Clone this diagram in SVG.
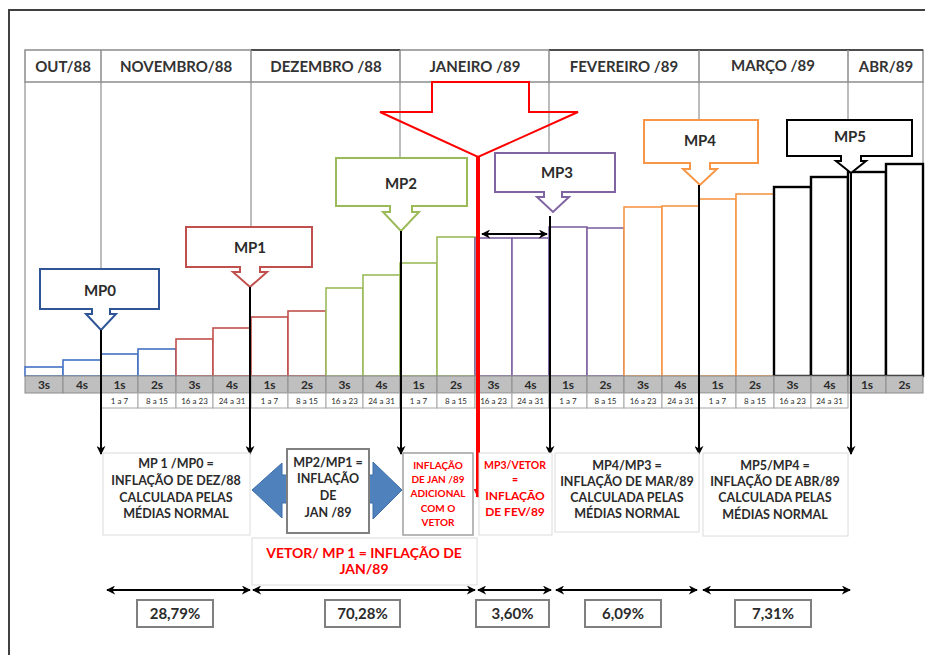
<svg xmlns="http://www.w3.org/2000/svg" width="925" height="655" viewBox="0 0 925 655">
<defs>
<marker id="ah" viewBox="0 0 10 10" refX="9" refY="5" markerWidth="9" markerHeight="9" markerUnits="userSpaceOnUse" orient="auto-start-reverse"><path d="M0,0 L10,5 L0,10 L3,5 z" fill="#000"/></marker>
<marker id="ahr" viewBox="0 0 10 10" refX="9" refY="5" markerWidth="9" markerHeight="9" markerUnits="userSpaceOnUse" orient="auto"><path d="M0,0 L10,5 L0,10 z" fill="#ff0000"/></marker>
<style>
text{font-family:Lato,"Open Sans","Liberation Sans",sans-serif;font-weight:700;fill:#2b2b2b;text-anchor:middle}
.hd{font-size:15px;fill:#333}
.wk{font-size:12px}
.sub{font-size:8px;font-weight:400}
.mp{font-size:15px}
.bx{font-size:12.5px}
.rd{fill:#ff0000}
.pc{font-size:15px}
.grid{stroke:#a6a6a6;stroke-width:1.5;fill:none}
.bar{fill:#fff;stroke-width:1.6}
.blue{stroke:#4472c4}.red{stroke:#c0504d}.green{stroke:#9bbb59}.purple{stroke:#8064a2}.orange{stroke:#f79646}.black{stroke:#000;stroke-width:2.4}
.co{fill:#fff;stroke-width:2}
.ptr{stroke:#000;stroke-width:2;fill:none}
.tb{fill:#fff;stroke:#dcdcdc;stroke-width:1}
.pbox{fill:#fff;stroke:#7f7f7f;stroke-width:2}
.barr{fill:#4f81bd;stroke:#3c6ea8;stroke-width:1}
.cell{fill:#bfbfbf;stroke:#8c8c8c;stroke-width:1}
.scell{fill:#fff;stroke:#a6a6a6;stroke-width:1}
</style>
</defs>

<g id="frame"><path d="M925,10 H9 V655" fill="none" stroke="#404040" stroke-width="2"/></g>

<g id="gridlines">
<line class="grid" x1="25" y1="82" x2="25" y2="367"/>
<line class="grid" x1="101" y1="82" x2="101" y2="269"/>
<line class="grid" x1="251" y1="82" x2="251" y2="227"/>
<line class="grid" x1="400" y1="82" x2="400" y2="158"/>
<line class="grid" x1="549" y1="82" x2="549" y2="153"/>
<line class="grid" x1="699" y1="82" x2="699" y2="120"/>
<line class="grid" x1="848" y1="82" x2="848" y2="120"/>
<line class="grid" x1="923" y1="82" x2="923" y2="164"/>
</g>

<g id="header">
<rect x="25" y="50" width="898" height="32" fill="#fff" stroke="#8c8c8c" stroke-width="1.5"/>
<path d="M251,50 H400 M549,50 H923" stroke="#4d4d4d" stroke-width="2"/>
<path d="M101,50 V82 M251,50 V82 M400,50 V82 M549,50 V82 M699,50 V82 M848,50 V82" stroke="#8c8c8c" stroke-width="1.5"/>
<text class="hd" x="63" y="71.5">OUT/88</text>
<text class="hd" x="176" y="71.5">NOVEMBRO/88</text>
<text class="hd" x="326" y="71.5">DEZEMBRO /88</text>
<text class="hd" x="475" y="71.5">JANEIRO /89</text>
<text class="hd" x="624" y="71.5">FEVEREIRO /89</text>
<text class="hd" x="773" y="70.5">MARÇO /89</text>
<text class="hd" x="886" y="71.5">ABR/89</text>
</g>

<g id="bars">
<rect class="bar blue" x="25" y="367" width="38" height="9"/>
<rect class="bar blue" x="63" y="360" width="38" height="16"/>
<rect class="bar blue" x="101" y="354" width="37" height="22"/>
<rect class="bar blue" x="138" y="349" width="38" height="27"/>
<rect class="bar red" x="176" y="339" width="37" height="37"/>
<rect class="bar red" x="213" y="328" width="38" height="48"/>
<rect class="bar red" x="251" y="317" width="37" height="59"/>
<rect class="bar red" x="288" y="311" width="38" height="65"/>
<rect class="bar green" x="326" y="288" width="37" height="88"/>
<rect class="bar green" x="363" y="275" width="37" height="101"/>
<rect class="bar green" x="400" y="263" width="37" height="113"/>
<rect class="bar green" x="437" y="237" width="38" height="139"/>
<rect class="bar purple" x="475" y="238" width="37" height="138"/>
<rect class="bar purple" x="512" y="238" width="37" height="138"/>
<rect class="bar purple" x="549" y="227" width="38" height="149"/>
<rect class="bar purple" x="587" y="228" width="37" height="148"/>
<rect class="bar orange" x="624" y="207" width="38" height="169"/>
<rect class="bar orange" x="662" y="206" width="37" height="170"/>
<rect class="bar orange" x="699" y="199" width="37" height="177"/>
<rect class="bar orange" x="736" y="194" width="38" height="182"/>
<rect class="bar black" x="774" y="187" width="37" height="189"/>
<rect class="bar black" x="811" y="177" width="37" height="199"/>
<rect class="bar black" x="848" y="172" width="38" height="204"/>
<rect class="bar black" x="886" y="164" width="37" height="212"/>
</g>

<g id="weeks">
<rect class="cell" x="25" y="376" width="38" height="17"/><text class="wk" x="44" y="389">3s</text>
<rect class="cell" x="63" y="376" width="38" height="17"/><text class="wk" x="82" y="389">4s</text>
<rect class="cell" x="101" y="376" width="37" height="17"/><text class="wk" x="119.5" y="389">1s</text>
<rect class="cell" x="138" y="376" width="38" height="17"/><text class="wk" x="157" y="389">2s</text>
<rect class="cell" x="176" y="376" width="37" height="17"/><text class="wk" x="194.5" y="389">3s</text>
<rect class="cell" x="213" y="376" width="38" height="17"/><text class="wk" x="232" y="389">4s</text>
<rect class="cell" x="251" y="376" width="37" height="17"/><text class="wk" x="269.5" y="389">1s</text>
<rect class="cell" x="288" y="376" width="38" height="17"/><text class="wk" x="307" y="389">2s</text>
<rect class="cell" x="326" y="376" width="37" height="17"/><text class="wk" x="344.5" y="389">3s</text>
<rect class="cell" x="363" y="376" width="37" height="17"/><text class="wk" x="381.5" y="389">4s</text>
<rect class="cell" x="400" y="376" width="37" height="17"/><text class="wk" x="418.5" y="389">1s</text>
<rect class="cell" x="437" y="376" width="38" height="17"/><text class="wk" x="456" y="389">2s</text>
<rect class="cell" x="475" y="376" width="37" height="17"/><text class="wk" x="493.5" y="389">3s</text>
<rect class="cell" x="512" y="376" width="37" height="17"/><text class="wk" x="530.5" y="389">4s</text>
<rect class="cell" x="549" y="376" width="38" height="17"/><text class="wk" x="568" y="389">1s</text>
<rect class="cell" x="587" y="376" width="37" height="17"/><text class="wk" x="605.5" y="389">2s</text>
<rect class="cell" x="624" y="376" width="38" height="17"/><text class="wk" x="643" y="389">3s</text>
<rect class="cell" x="662" y="376" width="37" height="17"/><text class="wk" x="680.5" y="389">4s</text>
<rect class="cell" x="699" y="376" width="37" height="17"/><text class="wk" x="717.5" y="389">1s</text>
<rect class="cell" x="736" y="376" width="38" height="17"/><text class="wk" x="755" y="389">2s</text>
<rect class="cell" x="774" y="376" width="37" height="17"/><text class="wk" x="792.5" y="389">3s</text>
<rect class="cell" x="811" y="376" width="37" height="17"/><text class="wk" x="829.5" y="389">4s</text>
<rect class="cell" x="848" y="376" width="38" height="17"/><text class="wk" x="867" y="389">1s</text>
<rect class="cell" x="886" y="376" width="37" height="17"/><text class="wk" x="904.5" y="389">2s</text>
</g>

<g id="days">
<rect class="scell" x="101" y="393" width="37" height="15"/><text class="sub" x="119.5" y="403.5">1 a 7</text>
<rect class="scell" x="138" y="393" width="38" height="15"/><text class="sub" x="157" y="403.5">8 a 15</text>
<rect class="scell" x="176" y="393" width="37" height="15"/><text class="sub" x="194.5" y="403.5">16 a 23</text>
<rect class="scell" x="213" y="393" width="38" height="15"/><text class="sub" x="232" y="403.5">24 a 31</text>
<rect class="scell" x="251" y="393" width="37" height="15"/><text class="sub" x="269.5" y="403.5">1 a 7</text>
<rect class="scell" x="288" y="393" width="38" height="15"/><text class="sub" x="307" y="403.5">8 a 15</text>
<rect class="scell" x="326" y="393" width="37" height="15"/><text class="sub" x="344.5" y="403.5">16 a 23</text>
<rect class="scell" x="363" y="393" width="37" height="15"/><text class="sub" x="381.5" y="403.5">24 a 31</text>
<rect class="scell" x="400" y="393" width="37" height="15"/><text class="sub" x="418.5" y="403.5">1 a 7</text>
<rect class="scell" x="437" y="393" width="38" height="15"/><text class="sub" x="456" y="403.5">8 a 15</text>
<rect class="scell" x="475" y="393" width="37" height="15"/><text class="sub" x="493.5" y="403.5">16 a 23</text>
<rect class="scell" x="512" y="393" width="37" height="15"/><text class="sub" x="530.5" y="403.5">24 a 31</text>
<rect class="scell" x="549" y="393" width="38" height="15"/><text class="sub" x="568" y="403.5">1 a 7</text>
<rect class="scell" x="587" y="393" width="37" height="15"/><text class="sub" x="605.5" y="403.5">8 a 15</text>
<rect class="scell" x="624" y="393" width="38" height="15"/><text class="sub" x="643" y="403.5">16 a 23</text>
<rect class="scell" x="662" y="393" width="37" height="15"/><text class="sub" x="680.5" y="403.5">24 a 31</text>
<rect class="scell" x="699" y="393" width="37" height="15"/><text class="sub" x="717.5" y="403.5">1 a 7</text>
<rect class="scell" x="736" y="393" width="38" height="15"/><text class="sub" x="755" y="403.5">8 a 15</text>
<rect class="scell" x="774" y="393" width="37" height="15"/><text class="sub" x="792.5" y="403.5">16 a 23</text>
<rect class="scell" x="811" y="393" width="37" height="15"/><text class="sub" x="829.5" y="403.5">24 a 31</text>
</g>

<g id="MP0"><path class="co" stroke="#2f5597" d="M40,269 H159 V309 H110 V314 H116 L101,330 L86,314 H92 V309 H40 Z"/><text class="mp" x="100" y="295.5">MP0</text></g>
<g id="MP1"><path class="co" stroke="#c0504d" d="M186,227 H312 V267 H260 V272 H267 L250,287 L233,272 H240 V267 H186 Z"/><text class="mp" x="250" y="252.5">MP1</text></g>
<g id="MP2"><path class="co" stroke="#9bbb59" d="M336,158 H467 V206 H412 V212 H419 L401,231 L383,212 H390 V206 H336 Z"/><text class="mp" x="401" y="188.5">MP2</text></g>
<g id="MP3"><path class="co" stroke="#8064a2" d="M495,153 H615 V192 H562 V197 H569 L553,212 L537,197 H544 V192 H495 Z"/><text class="mp" x="557" y="177.5">MP3</text></g>
<g id="MP4"><path class="co" stroke="#f79646" d="M644,120 H758 V163 H710 V169 H717 L700,185 L683,169 H690 V163 H644 Z"/><text class="mp" x="700" y="145.5">MP4</text></g>
<g id="MP5"><path class="co" stroke="#000" stroke-width="2.5" d="M787,120 H912 V156 H861 V161 H866 L851,173 L836,161 H841 V156 H787 Z"/><text class="mp" x="850" y="141.5">MP5</text></g>

<g id="vetor-arrow"><path d="M432,82 H529 V112 H578 L478,157 L380,112 H432 Z" fill="none" stroke="#ff0000" stroke-width="2"/></g>

<g id="connectors">
<line class="ptr" x1="101" y1="330" x2="101" y2="454" marker-end="url(#ah)"/>
<line class="ptr" x1="250" y1="287" x2="250" y2="454" marker-end="url(#ah)"/>
<line class="ptr" x1="401" y1="231" x2="401" y2="454" marker-end="url(#ah)"/>
<line class="ptr" x1="550" y1="216" x2="550" y2="454" marker-end="url(#ah)"/>
<line class="ptr" x1="699" y1="185" x2="699" y2="454" marker-end="url(#ah)"/>
<line class="ptr" x1="851" y1="173" x2="851" y2="454" marker-end="url(#ah)"/>
<line class="ptr" x1="482" y1="234" x2="547" y2="234" marker-start="url(#ah)" marker-end="url(#ah)"/>
<line x1="478" y1="156" x2="478" y2="497" stroke="#ff0000" stroke-width="4" marker-end="url(#ahr)"/>
<line class="ptr" stroke-width="2.5" x1="107" y1="590" x2="250" y2="590" marker-start="url(#ah)" marker-end="url(#ah)"/>
<line class="ptr" stroke-width="2.5" x1="253" y1="590" x2="475" y2="590" marker-start="url(#ah)" marker-end="url(#ah)"/>
<line class="ptr" stroke-width="2.5" x1="478" y1="590" x2="551" y2="590" marker-start="url(#ah)" marker-end="url(#ah)"/>
<line class="ptr" stroke-width="2.5" x1="556" y1="590" x2="697" y2="590" marker-start="url(#ah)" marker-end="url(#ah)"/>
<line class="ptr" stroke-width="2.5" x1="703" y1="590" x2="850" y2="590" marker-start="url(#ah)" marker-end="url(#ah)"/>
</g>

<g id="box-dez">
<rect class="tb" x="103" y="453" width="147" height="82"/>
<text class="bx" x="176" y="467.5">MP 1 /MP0 =</text>
<text class="bx" x="176" y="484.5">INFLAÇÃO DE DEZ/88</text>
<text class="bx" x="176" y="501.5">CALCULADA PELAS</text>
<text class="bx" x="176" y="517.5">MÉDIAS NORMAL</text>
</g>

<g id="blue-arrows">
<path class="barr" d="M252,490 L282,463 V475 H288 V503 H282 V518 Z"/>
<path class="barr" d="M402,490 L373,462 V475 H368 V503 H373 V519 Z"/>
</g>

<g id="box-jan">
<rect x="287" y="449" width="82" height="84" fill="#fff" stroke="#808080" stroke-width="2"/>
<text class="bx" x="328" y="466.5">MP2/MP1 =</text>
<text class="bx" x="328" y="482.5">INFLAÇÃO</text>
<text class="bx" x="328" y="499.5">DE</text>
<text class="bx" x="328" y="516.5">JAN /89</text>
</g>

<g id="box-adicional">
<rect x="403" y="453" width="70" height="82" fill="#fff" stroke="#a0a0a0" stroke-width="1.5"/>
<text class="rd" font-size="10" x="438" y="468.5">INFLAÇÃO</text>
<text class="rd" font-size="10" x="438" y="482.5">DE JAN /89</text>
<text class="rd" font-size="10" x="438" y="496.5">ADICIONAL</text>
<text class="rd" font-size="10" x="438" y="511.5">COM O</text>
<text class="rd" font-size="10" x="438" y="525.5">VETOR</text>
</g>

<g id="box-fev">
<rect class="tb" x="479" y="453" width="73" height="82"/>
<text class="rd" font-size="10.5" x="515" y="468.5">MP3/VETOR</text>
<text class="rd" font-size="10.5" x="515" y="482.5">=</text>
<text class="rd" font-size="12" x="515" y="499.5">INFLAÇÃO</text>
<text class="rd" font-size="12" x="515" y="516">DE FEV/89</text>
</g>

<g id="box-mar">
<rect class="tb" x="555" y="453" width="144" height="79"/>
<text class="bx" x="627" y="469.5">MP4/MP3 =</text>
<text class="bx" x="627" y="485.5">INFLAÇÃO DE MAR/89</text>
<text class="bx" x="627" y="501.5">CALCULADA PELAS</text>
<text class="bx" x="627" y="517.5">MÉDIAS NORMAL</text>
</g>

<g id="box-abr">
<rect class="tb" x="703" y="453" width="145" height="83"/>
<text class="bx" x="775" y="469.5">MP5/MP4 =</text>
<text class="bx" x="775" y="485.5">INFLAÇÃO DE ABR/89</text>
<text class="bx" x="775" y="501.5">CALCULADA PELAS</text>
<text class="bx" x="775" y="518.5">MÉDIAS NORMAL</text>
</g>

<g id="box-vetor">
<rect class="tb" x="252" y="538" width="225" height="47"/>
<text class="rd" font-size="14" x="364" y="558">VETOR/ MP 1 = INFLAÇÃO DE</text>
<text class="rd" font-size="14" x="364" y="574">JAN/89</text>
</g>

<g id="percentages">
<rect class="pbox" x="137" y="600" width="76" height="27"/><text class="pc" x="175" y="619">28,79%</text>
<rect class="pbox" x="325" y="600" width="75" height="27"/><text class="pc" x="362.5" y="619">70,28%</text>
<rect class="pbox" x="476" y="600" width="73" height="27"/><text class="pc" x="512.5" y="619">3,60%</text>
<rect class="pbox" x="585" y="600" width="76" height="27"/><text class="pc" x="623" y="619">6,09%</text>
<rect class="pbox" x="735" y="600" width="76" height="27"/><text class="pc" x="773" y="619">7,31%</text>
</g>
</svg>
